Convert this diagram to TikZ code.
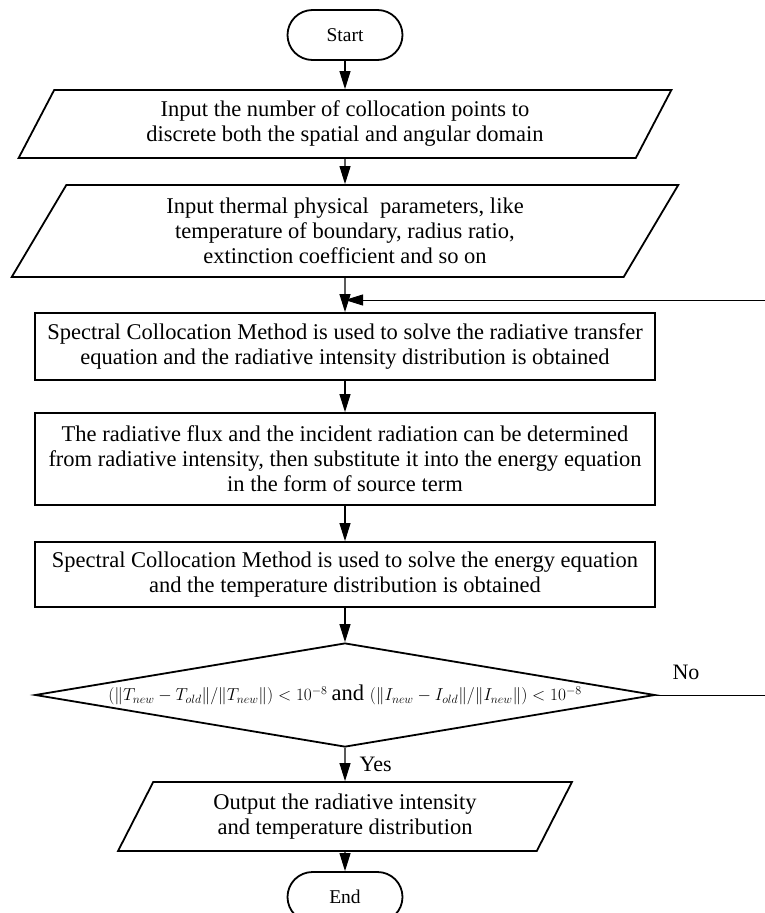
\documentclass[tikz,border=0pt]{standalone}
\usepackage{amsmath}
\usepackage{fontspec}
\setmainfont{Liberation Serif}
\usepackage{tikz}
\usetikzlibrary{arrows.meta,shapes.geometric}

\begin{document}
\begin{tikzpicture}
	[
	x=1pt, y=-1pt,
	box/.style={
		draw,
		line width=1.8pt,
		align=center,
		minimum width=620pt,
		inner sep=2pt,
		font=\fontsize{22.5}{25}\selectfont
	},
	io/.style={
		draw,
		line width=1.8pt,
		trapezium,
		trapezium left angle=62,
		trapezium right angle=118,
		trapezium stretches=true,
		align=center,
		inner sep=0pt,
		font=\fontsize{22.5}{25}\selectfont
	},
	terminal/.style={
		draw,
		line width=1.8pt,
		rounded corners=25pt,
		minimum width=115pt,
		minimum height=50pt,
		font=\fontsize{19.5}{22}\selectfont
	},
	decision/.style={
		draw,
		diamond,
		aspect=6,
		line width=1.8pt,
		minimum width=620pt,
		minimum height=104pt,
		inner sep=0pt
	},
	answer/.style={
		inner sep=0pt,
		font=\fontsize{22}{25}\selectfont
	},
	arrow/.style={
		-{Triangle[length=18pt,width=11pt]},
		line width=1.1pt
	}
	]
	
	\useasboundingbox (0,0) rectangle (764,913);
	
	% Start and input data
	\node[terminal] (start) at (345,35) {Start};
	
	\node[io, minimum width=657pt, minimum height=68pt] (input1) at (345,124)
	{Input the number of collocation points to\\
	 discrete both the spatial and angular domain};
	
	\node[io, minimum width=668pt, minimum height=92pt] (input2) at (345,231)
	{Input thermal physical\ \ parameters, like\\
	 temperature of boundary, radius ratio,\\
	 extinction coefficient and so on};
	
	% Solution steps
	\node[box, minimum height=67pt] (solveRTE) at (345,346.5)
	{Spectral Collocation Method is used to solve the radiative transfer\\
	 equation and the radiative intensity distribution is obtained};
	
	\node[box, minimum height=92pt] (flux) at (345,459)
	{The radiative flux and the incident radiation can be determined\\
	 from radiative intensity, then substitute it into the energy equation\\
	 in the form of source term};
	
	\node[box, minimum height=65pt] (solveEnergy) at (345,574.5)
	{Spectral Collocation Method is used to solve the energy equation\\
	 and the temperature distribution is obtained};
	
	% Convergence check
	\node[decision] (check) at (345,695)
	{\fontsize{16.5}{18}\selectfont
	 $(\lVert T_{new}-T_{old}\rVert/\lVert T_{new}\rVert)<10^{-8}$
	 \fontsize{22.5}{25}\selectfont and
	 \fontsize{16.5}{18}\selectfont
	 $(\lVert I_{new}-I_{old}\rVert/\lVert I_{new}\rVert)<10^{-8}$};
	
	% Output and end
	\node[io, minimum width=455pt, minimum height=69pt] (output) at (345,816.5)
	{Output the radiative intensity\\
	 and temperature distribution};
	
	\node[terminal] (stop) at (345,897) {End};
	
	% Loop back
	\coordinate (loopcorner) at (770,300);
	\coordinate (merge) at (345,300);
	\node[answer] (no) at (686,672) {No};
	
	% Arrows
	\draw[arrow] (start) -- (input1);
	\draw[arrow] (input1) -- (input2);
	\draw[arrow] (input2) -- (solveRTE);
	\draw[arrow] (solveRTE) -- (flux);
	\draw[arrow] (flux) -- (solveEnergy);
	\draw[arrow] (solveEnergy) -- (check);
	\draw[arrow] (check) -- node[answer, right=14pt] (yes) {Yes} (output);
	\draw[arrow] (output) -- (stop);
	
	\draw[arrow, line width=0.9pt] (check.east) -- (check.east -| loopcorner) -- (loopcorner) -- (merge);
	
\end{tikzpicture}
\end{document}
